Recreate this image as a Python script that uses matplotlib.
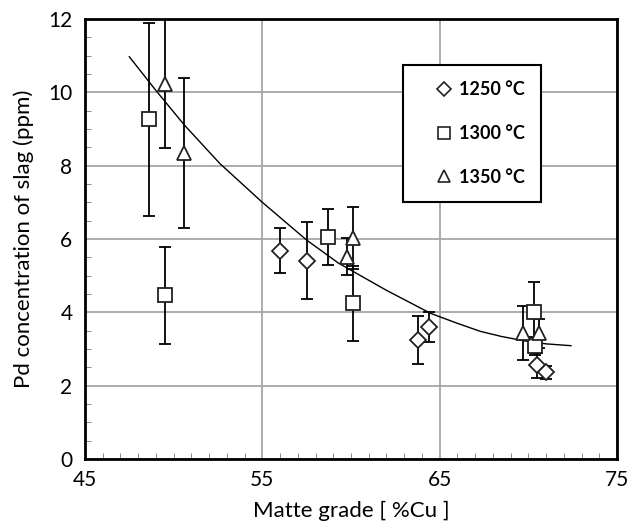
import numpy as np
import matplotlib
matplotlib.use('Agg')
import matplotlib.pyplot as plt
from matplotlib.lines import Line2D
from matplotlib.ticker import MultipleLocator

plt.rcParams['font.family'] = ['Lato', 'DejaVu Sans']

# 1250 C (diamonds)
x1250 = [56.0, 57.5, 63.8, 64.4, 70.5, 71.0]
y1250 = [5.68, 5.40, 3.25, 3.60, 2.55, 2.36]
e1250 = [0.62, 1.05, 0.66, 0.42, 0.35, 0.18]

# 1300 C (squares)
x1300 = [48.6, 49.5, 58.7, 60.1, 70.3, 70.35]
y1300 = [9.26, 4.46, 6.06, 4.25, 4.02, 3.08]
e1300 = [2.62, 1.32, 0.76, 1.02, 0.82, 0.25]

# 1350 C (triangles)
x1350 = [49.5, 50.6, 59.8, 60.1, 69.7, 70.6]
y1350 = [10.24, 8.35, 5.52, 6.02, 3.44, 3.43]
e1350 = [1.77, 2.05, 0.50, 0.85, 0.73, 0.40]

# trend line
xfit = [47.5, 49.0, 50.6, 52.6, 55.0, 57.5, 59.3, 62.0, 64.5, 66.0, 67.3, 68.5, 69.8, 71.0, 72.4]
yfit = [10.97, 10.05, 9.11, 8.06, 7.00, 5.97, 5.34, 4.60, 3.97, 3.70, 3.48, 3.34, 3.22, 3.14, 3.09]

xticks = [45, 55, 65, 75]

fig = plt.figure(figsize=(6.3, 5.22), dpi=100)
ax = fig.add_axes([0.1349, 0.1207, 0.8445, 0.8429])

ax.plot(xfit, yfit, color='black', lw=1.0, zorder=2)

series = [(x1250, y1250, e1250, 'D', 8.5, '1250 °C'),
          (x1300, y1300, e1300, 's', 10, '1300 °C'),
          (x1350, y1350, e1350, '^', 10.5, '1350 °C')]
handles = []
for xs, ys, es, m, ms, lab in series:
    ax.errorbar(xs, ys, yerr=es, fmt='none', ecolor='black', elinewidth=1.3,
                capsize=4, capthick=1.3, zorder=3)
    ax.plot(xs, ys, ls='none', marker=m, ms=ms, mfc='white', mec='#222222',
            mew=1.3, zorder=4)
    handles.append(Line2D([], [], ls='none', marker=m, ms=ms * 0.85, mfc='white',
                          mec='#222222', mew=1.2, label=lab))

ax.set_xlim(45, 75)
ax.set_ylim(0, 12)
ax.set_xticks(xticks)
ax.xaxis.set_minor_locator(MultipleLocator(1))
ax.yaxis.set_major_locator(MultipleLocator(2))
ax.yaxis.set_minor_locator(MultipleLocator(0.5))
ax.grid(True, which='major', color='#a6a6a6', lw=1.3)
ax.set_axisbelow(True)
ax.tick_params(which='major', length=0, labelsize=15)
ax.tick_params(axis='x', which='major', pad=8)
ax.tick_params(axis='y', which='major', pad=9)
ax.tick_params(which='minor', direction='in', length=4, color='#777777')
for s in ax.spines.values():
    s.set_linewidth(2)
    s.set_color('black')

ax.set_xlabel('Matte grade [ %Cu ]', fontsize=16, labelpad=8)
ax.set_ylabel('Pd concentration of slag (ppm)', fontsize=16, labelpad=10)

leg = ax.legend(handles=handles, loc='upper left', bbox_to_anchor=(0.598, 0.895),
                frameon=True, fancybox=False, framealpha=1, edgecolor='black',
                prop={'weight': 'bold', 'size': 13}, labelspacing=1.47,
                handlelength=2.7, handletextpad=-0.5, borderpad=0.9,
                borderaxespad=0, markerfirst=True)
leg.get_frame().set_linewidth(1.5)

fig.savefig('out.png', dpi=100)
